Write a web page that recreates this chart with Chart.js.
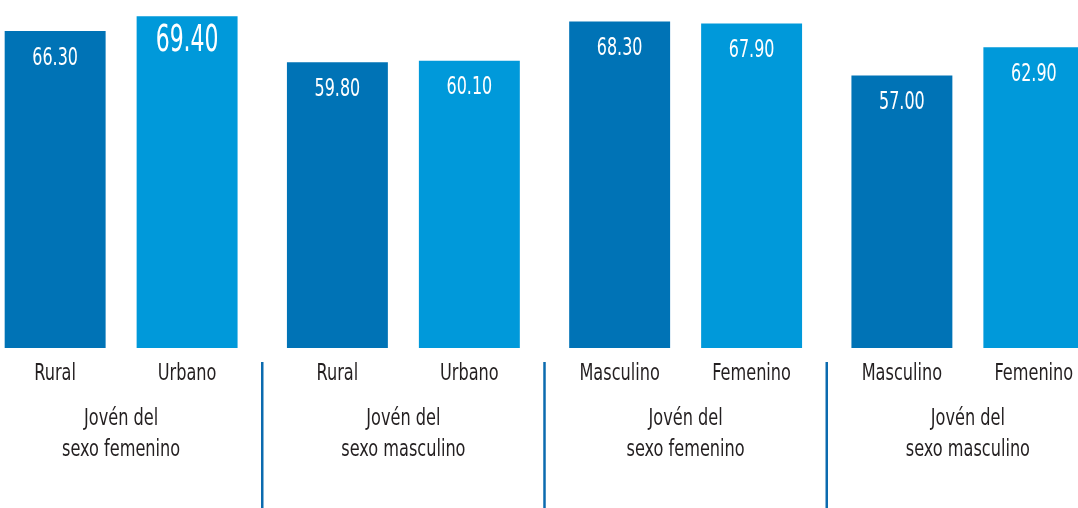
<!DOCTYPE html>
<html>
<head>
<meta charset="utf-8">
<script src="https://cdn.jsdelivr.net/npm/chart.js@4/dist/chart.umd.min.js"></script>
<style>
  html, body { margin: 0; padding: 0; background: #ffffff; overflow: hidden; }
  #wrap { position: absolute; left: -20px; top: 0; width: 1129px; height: 508px; }
</style>
</head>
<body>
<div id="wrap"><canvas id="c"></canvas></div>
<script>
// ---- data ----
const groupLabels = [
  ['Jovén del', 'sexo femenino'],
  ['Jovén del', 'sexo masculino'],
  ['Jovén del', 'sexo femenino'],
  ['Jovén del', 'sexo masculino']
];
const firstBarLabels = ['Rural', 'Rural', 'Masculino', 'Masculino'];
const secondBarLabels = ['Urbano', 'Urbano', 'Femenino', 'Femenino'];
const firstValues = [66.30, 59.80, 68.30, 57.00];
const secondValues = [69.40, 60.10, 67.90, 62.90];

const FONT = "'DejaVu Sans Condensed', 'Liberation Sans Narrow', sans-serif";
const DARK = '#0073B6';
const LIGHT = '#0099DA';
const TEXT = '#231F20';
const SEP = '#0B6BAF';

const maxValue = Math.max(...firstValues, ...secondValues);

function squeezedText(ctx, text, x, y, sx) {
  ctx.save();
  ctx.translate(x, y);
  ctx.scale(sx, 1);
  ctx.fillText(text, 0, 0);
  ctx.restore();
}

const labelPlugin = {
  id: 'barLabels',
  afterDatasetsDraw(chart) {
    const ctx = chart.ctx;
    ctx.save();
    ctx.textAlign = 'center';
    ctx.textBaseline = 'middle';
    chart.data.datasets.forEach((ds, di) => {
      const meta = chart.getDatasetMeta(di);
      meta.data.forEach((bar, i) => {
        const v = ds.data[i];
        const big = v === maxValue;
        ctx.fillStyle = '#ffffff';
        ctx.font = (big ? '37px ' : '25px ') + FONT;
        squeezedText(ctx, v.toFixed(2), bar.x, bar.y + (big ? 25 : 27), big ? 0.66 : 0.71);
        ctx.fillStyle = TEXT;
        ctx.font = '23px ' + FONT;
        squeezedText(ctx, ds.subLabels[i], bar.x, bar.base + 26, 0.78);
      });
    });
    // group labels under each pair
    const xs = chart.scales.x;
    ctx.fillStyle = TEXT;
    ctx.font = '23px ' + FONT;
    xs.ticks.forEach((t, i) => {
      const x = xs.getPixelForTick(i);
      groupLabels[i].forEach((line, li) => {
        squeezedText(ctx, line, x, chart.chartArea.bottom + 71 + li * 31, 0.78);
      });
    });
    // separators between groups
    ctx.strokeStyle = SEP;
    ctx.lineWidth = 2.5;
    for (let i = 0; i < groupLabels.length - 1; i++) {
      const x = (xs.getPixelForTick(i) + xs.getPixelForTick(i + 1)) / 2;
      ctx.beginPath();
      ctx.moveTo(x, chart.chartArea.bottom + 14);
      ctx.lineTo(x, chart.height);
      ctx.stroke();
    }
    ctx.restore();
  }
};

new Chart(document.getElementById('c'), {
  type: 'bar',
  data: {
    labels: groupLabels,
    datasets: [
      { data: firstValues, backgroundColor: DARK, subLabels: firstBarLabels,
        categoryPercentage: 0.935, barPercentage: 0.765 },
      { data: secondValues, backgroundColor: LIGHT, subLabels: secondBarLabels,
        categoryPercentage: 0.935, barPercentage: 0.765 }
    ]
  },
  options: {
    responsive: true,
    maintainAspectRatio: false,
    animation: false,
    layout: { padding: 0 },
    plugins: { legend: { display: false }, tooltip: { enabled: false } },
    scales: {
      y: { display: false, min: 0, max: 72.8 },
      x: {
        grid: { display: false, drawTicks: false },
        border: { display: false },
        ticks: { display: false },
        afterFit(scale) { scale.height = 160; }
      }
    }
  },
  plugins: [labelPlugin]
});
</script>
</body>
</html>
